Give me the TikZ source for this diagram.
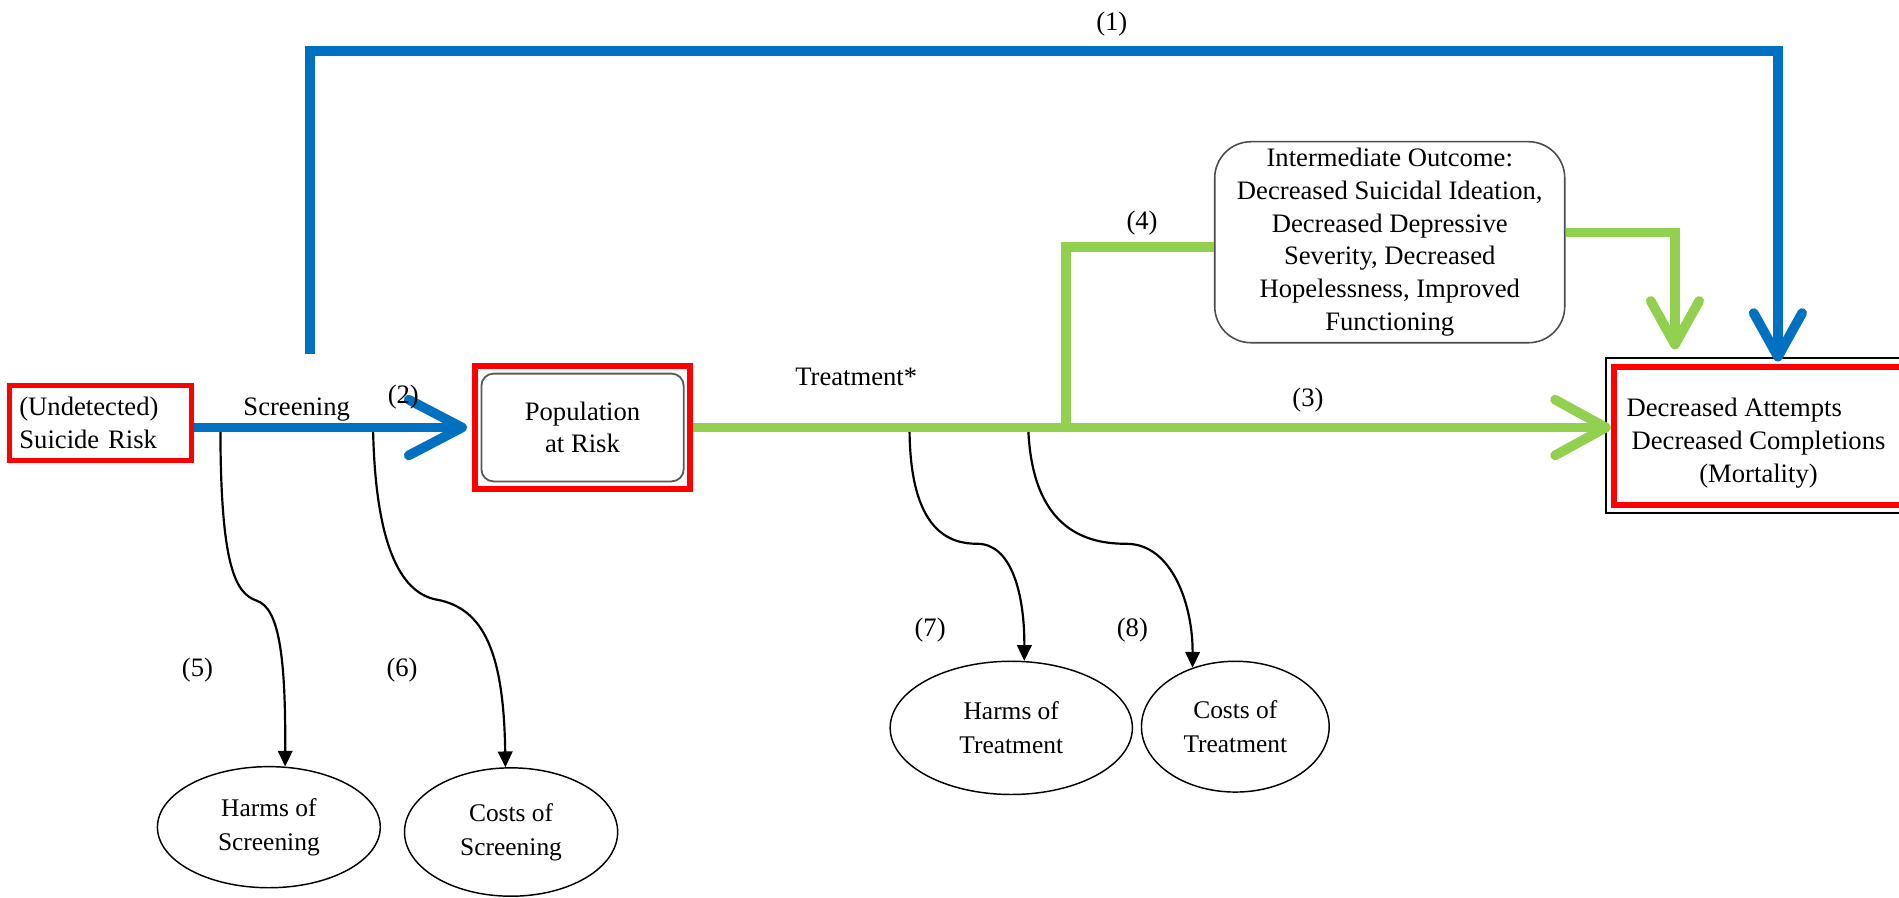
\documentclass[tikz,border=0pt]{standalone}
\usepackage{fontspec}
\setmainfont{Liberation Serif}
\usetikzlibrary{arrows.meta,shapes.geometric,calc}
\definecolor{cblue}{HTML}{0070C0}
\definecolor{cgreen}{HTML}{92D050}
\definecolor{cred}{HTML}{FF0000}
\begin{document}
\begin{tikzpicture}[x=1pt,y=-1pt,
  lbl/.style={font=\fontsize{22}{27}\selectfont, inner sep=0pt},
  boxtext/.style={font=\fontsize{22}{27}\selectfont, align=center, inner sep=0pt},
  redframe/.style={draw=cred, line width=5pt, rectangle, inner sep=0pt},
  ell/.style={draw, ellipse, line width=1.2pt, align=center, inner sep=0pt, font=\fontsize{21}{28}\selectfont},
  blueline/.style={draw=cblue, line width=8pt},
  greenline/.style={draw=cgreen, line width=8pt},
  curvearrow/.style={line width=1.8pt, -{Triangle[length=13pt,width=12pt]}},
]
\useasboundingbox (0,0) rectangle (1568,741);
\clip (0,0) rectangle (1568,741);

% boxes
\node[redframe, line width=4pt, minimum width=150pt, minimum height=62pt, align=left, text width=134pt, font=\fontsize{22}{27}\selectfont] (und) at (83,349) {(Undetected)\\Suicide Risk};
\node[boxtext, draw=gray!70!black, line width=1.5pt, rounded corners=10pt, minimum width=167pt, minimum height=89pt] (pop) at (481,353) {Population\\at Risk};
\node[redframe, minimum width=178pt, minimum height=102pt] (popframe) at (481,353) {};
\node[boxtext, draw=gray!60!black, line width=1.3pt, rounded corners=30pt, minimum width=289pt, minimum height=166pt] (inter) at (1147.5,200) {Intermediate Outcome:\\Decreased Suicidal Ideation,\\Decreased Depressive\\Severity, Decreased\\Hopelessness, Improved\\Functioning};
\node[redframe, anchor=west, minimum width=245pt, minimum height=114pt] (mort) at (1330,360) {};
\node[boxtext] (morttxt) at (1452,366) {\hspace*{-40pt}Decreased Attempts\\Decreased Completions\\(Mortality)};
\draw[line width=1.2pt] ($(mort.north west)+(-4,-5)$) rectangle ($(mort.south east)+(4,4)$);

% ellipses
\node[ell, minimum width=184pt, minimum height=100pt] (hS) at (222,683) {Harms of\\Screening};
\node[ell, minimum width=176pt, minimum height=106pt] (cS) at (422,687) {Costs of\\Screening};
\node[ell, minimum width=200pt, minimum height=110pt] (hT) at (835,601) {Harms of\\Treatment};
\node[ell, minimum width=155pt, minimum height=108pt] (cT) at (1020,600) {Costs of\\Treatment};

% curve start points
\coordinate (s5) at (182,353);
\coordinate (s6) at (308,353);
\coordinate (s7) at (751,353);
\coordinate (s8) at (849,353);
\coordinate (jn) at (880,353);
\coordinate (b1) at (256,292);
\coordinate (b2) at (256,42);

% black curved arrows
\draw[curvearrow] (s5) .. controls (182,470) and (195,490) .. (212,496) .. controls (230,502) and (236,540) .. (hS.75);
\draw[curvearrow] (s6) .. controls (310,460) and (335,490) .. (360,495) .. controls (400,502) and (416,540) .. (cS.95);
\draw[curvearrow] (s7) .. controls (751,440) and (785,449) .. (807,449) .. controls (835,449) and (846,490) .. (hT.79);
\draw[curvearrow] (s8) .. controls (852,440) and (900,449) .. (930,449) .. controls (968,449) and (985,500) .. (cT.126);

% original thin screening arrow
\draw[line width=1.2pt, -{Triangle[length=10pt,width=10pt]}] ([yshift=1pt]und.east |- jn) -- ([yshift=1pt,xshift=-4pt]popframe.west);

% green paths
\draw[greenline, -{Straight Barb[length=42pt,width=46pt,round]}] (popframe.east) -- (popframe.east -| mort.west);
\draw[greenline] (jn) |- ([yshift=-4pt]inter.west);
\draw[greenline, -{Straight Barb[length=36pt,width=40pt,round]}] ([yshift=8pt]inter.east) -| ($(mort.north west)+(53,-12)$);

% blue paths
\draw[blueline, -{Straight Barb[length=36pt,width=40pt,round]}] (b1) -- (b2) -| ($(mort.north west)+(138,-2)$);
\draw[blueline, -{Straight Barb[length=44pt,width=46pt,round]}] (und.east |- jn) -- ([xshift=-4pt]popframe.west);

% labels
\node[lbl] (l1) at (918,20) {(1)};
\node[lbl] (l2) at (333,328) {(2)};
\node[lbl] (l3) at (1080,330) {(3)};
\node[lbl] (l4) at (943,184) {(4)};
\node[lbl] (l5) at (163,553) {(5)};
\node[lbl] (l6) at (332,553) {(6)};
\node[lbl] (l7) at (768,520) {(7)};
\node[lbl] (l8) at (935,520) {(8)};
\node[lbl] (scr) at (245,338) {Screening};
\node[lbl] (trt) at (707,311) {Treatment*};
\end{tikzpicture}
\end{document}
